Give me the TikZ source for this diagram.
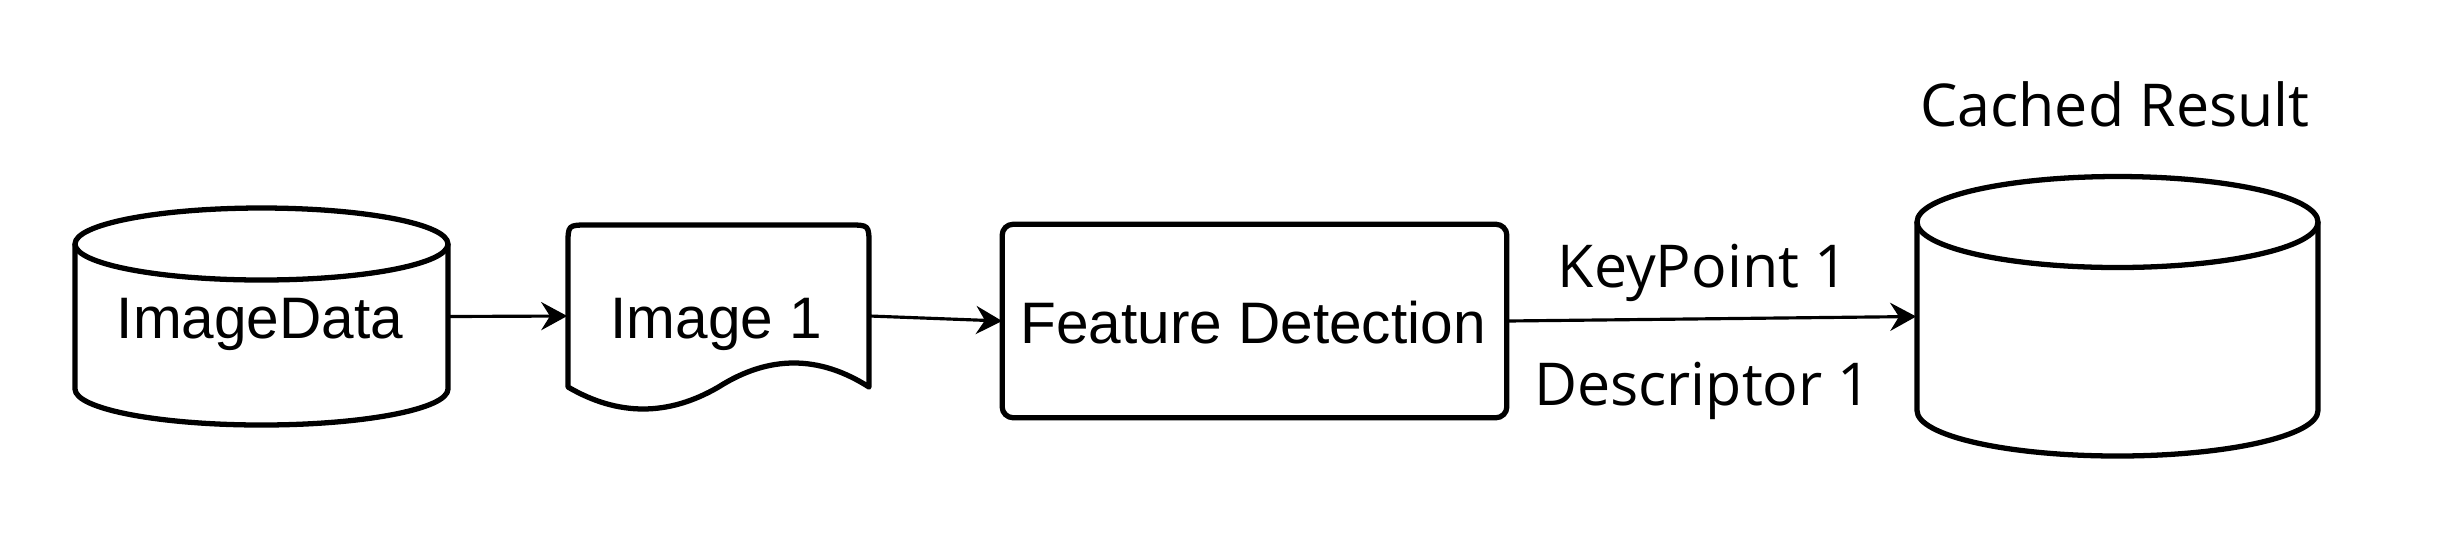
\documentclass[tikz,border=0pt]{standalone}
\usepackage{fontspec}
\setmainfont{Liberation Sans}
\newfontfamily\osans{Open Sans}
\usetikzlibrary{arrows.meta}
\begin{document}
\begin{tikzpicture}[x=0.01cm,y=-0.01cm,
  shapeline/.style={line width=1.5pt, line join=round},
  holder/.style={draw=none, inner sep=0pt, rectangle},
  arr/.style={line width=0.9pt, -{Stealth[length=7.4pt, width=8pt, inset=2.5pt]}},
  stxt/.style={font=\fontsize{16.65}{20}\selectfont, anchor=base, inner sep=0pt},
  ltxt/.style={font=\osans\fontsize{16.8}{20}\selectfont, anchor=base, inner sep=0pt}]
\fill[white] (0,0) rectangle (2456,532);
\path[use as bounding box] (0,0) rectangle (2456,532);

% ImageData cylinder
\node[holder, minimum width=3.73cm, minimum height=2.17cm] (db1) at (261.5,316.5) {};
\draw[shapeline] (75,244) -- (75,389) arc[start angle=180, end angle=0, x radius=186.5, y radius=36] -- (448,244);
\draw[shapeline] (261.5,244) ellipse [x radius=186.5, y radius=36];
\node[stxt] (t1) at (260,338) {ImageData};

% Image 1 document
\node[holder, minimum width=3.01cm, minimum height=1.82cm] (doc) at (718.5,316) {};
\draw[shapeline] (568,387) -- (568,245) .. controls (568,225) .. (588,225) -- (849,225)
  .. controls (869,225) .. (869,245) -- (869,387)
  .. controls (819,355) and (768.8,355) .. (718.5,387)
  .. controls (668.2,416.3) and (618,416.3) .. (568,387) -- cycle;
\node[stxt] (t2) at (716.5,338) {Image 1};

% Feature Detection
\node[holder, minimum width=5.03cm, minimum height=1.92cm] (fd) at (1254.5,321) {};
\draw[shapeline, rounded corners=0.11cm] (fd.south west) rectangle (fd.north east);
\node[stxt] (t3) at (1253,343) {Feature Detection};

% Cached Result cylinder
\node[holder, minimum width=4.01cm, minimum height=2.79cm] (db2) at (2117.5,316.5) {};
\draw[shapeline] (1917,222) -- (1917,410.5) arc[start angle=180, end angle=0, x radius=200.5, y radius=45.5] -- (2318,222);
\draw[shapeline] (2117.5,222) ellipse [x radius=200.5, y radius=45.5];
\node[ltxt] (t4) at (2115,126) {Cached Result};

% connectors
\draw[arr] (db1.east) -- (doc.west);
\draw[arr] (doc.east) -- (fd.west);
\draw[arr] (fd.east) -- (db2.west);
\node[ltxt] (k1) at (1703,287) {KeyPoint 1};
\node[ltxt] (d1) at (1703,405) {Descriptor 1};
\end{tikzpicture}
\end{document}
